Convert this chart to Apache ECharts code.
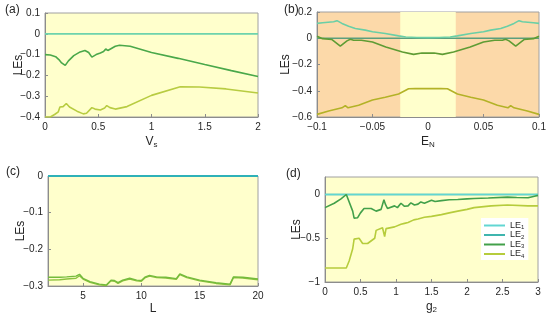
<!DOCTYPE html>
<html><head><meta charset="utf-8">
<script src="https://cdn.jsdelivr.net/npm/echarts@6/dist/echarts.min.js"></script>
<style>html,body{margin:0;padding:0;background:#fff}#c{width:550px;height:320px}</style>
</head><body><div id="c"></div>
<script>
// ---------- Panel (a): LEs vs V_s ----------
const aZeroX = [0, 2];
const aZeroY = [0, 0];
const aLE3x = [0,0.05,0.1,0.13,0.156,0.17,0.19,0.22,0.27,0.33,0.375,0.41,0.44,0.48,0.52,0.55,0.57,0.59,0.66,0.7,0.8,1.0,1.25,1.5,1.75,2.0];
const aLE3y = [-0.1,-0.102,-0.11,-0.124,-0.14,-0.142,-0.152,-0.13,-0.105,-0.087,-0.08,-0.09,-0.112,-0.1,-0.092,-0.085,-0.073,-0.08,-0.06,-0.055,-0.06,-0.09,-0.118,-0.148,-0.177,-0.205];
const aLE4x = [0,0.05,0.09,0.125,0.14,0.17,0.2,0.23,0.3,0.36,0.39,0.44,0.47,0.52,0.56,0.58,0.61,0.66,0.77,1.0,1.27,1.45,1.7,2.0];
const aLE4y = [-0.4,-0.4,-0.388,-0.375,-0.352,-0.35,-0.335,-0.352,-0.372,-0.385,-0.382,-0.355,-0.362,-0.366,-0.357,-0.345,-0.355,-0.362,-0.35,-0.296,-0.255,-0.256,-0.265,-0.285];

// ---------- Panel (b): LEs vs E_N ----------
const bShade = [-0.025, 0.025];
const bLE1x = [-0.1,-0.095,-0.085,-0.082,-0.0775,-0.0715,-0.0655,-0.0565,-0.05,-0.0385,-0.0265,-0.02,-0.01,0,0.01,0.02,0.0265,0.0385,0.05,0.0565,0.0655,0.0715,0.0775,0.082,0.085,0.095,0.1];
const bLE1y = [0.113,0.118,0.126,0.134,0.113,0.092,0.074,0.062,0.049,0.036,0.018,0.01,0.006,0.005,0.006,0.01,0.018,0.036,0.049,0.062,0.074,0.092,0.113,0.134,0.126,0.118,0.113];
const bLE2x = [-0.1, 0.1];
const bLE2y = [0, 0];
const bLE3x = [-0.1,-0.095,-0.0865,-0.079,-0.073,-0.07,-0.067,-0.06,-0.05,-0.038,-0.023,-0.013,-0.0055,0,0.0055,0.013,0.023,0.038,0.05,0.06,0.067,0.07,0.073,0.079,0.0865,0.095,0.1];
const bLE3y = [0.015,-0.003,-0.01,-0.06,-0.02,-0.008,-0.015,-0.015,-0.028,-0.067,-0.105,-0.123,-0.113,-0.113,-0.113,-0.123,-0.105,-0.067,-0.028,-0.015,-0.015,-0.008,-0.02,-0.06,-0.01,-0.003,0.015];
const bLE4x = [-0.1,-0.0895,-0.0775,-0.0745,-0.072,-0.0625,-0.05,-0.0385,-0.0265,-0.0175,-0.0115,0,0.0115,0.0175,0.0265,0.0385,0.05,0.0625,0.072,0.0745,0.0775,0.0895,0.1];
const bLE4y = [-0.58,-0.555,-0.53,-0.513,-0.53,-0.51,-0.47,-0.45,-0.425,-0.385,-0.384,-0.384,-0.384,-0.385,-0.425,-0.45,-0.47,-0.51,-0.53,-0.513,-0.53,-0.555,-0.58];

// ---------- Panel (c): LEs vs L ----------
const cZeroX = [2, 20];
const cZeroY = [0, 0];
const cLE3x = [2,3,3.6,4.4,4.7,5,5.6,6.4,7,7.4,7.7,8,8.4,9,9.6,10,10.3,10.7,11.3,12.1,13,13.3,13.9,15,16.4,17.6,17.9,18.7,20];
const cLE3y = [-0.276,-0.276,-0.275,-0.273,-0.268,-0.279,-0.288,-0.295,-0.297,-0.284,-0.285,-0.291,-0.284,-0.279,-0.284,-0.285,-0.276,-0.271,-0.275,-0.276,-0.28,-0.267,-0.275,-0.284,-0.291,-0.295,-0.275,-0.276,-0.281];
const cLE4x = [2,3,3.6,4.4,4.7,5,5.6,6.4,7,7.4,7.7,8,8.4,9,9.6,10,10.3,10.7,11.3,12.1,13,13.3,13.9,15,16.4,17.6,17.9,18.7,20];
const cLE4y = [-0.284,-0.283,-0.281,-0.279,-0.272,-0.281,-0.29,-0.297,-0.299,-0.286,-0.287,-0.293,-0.286,-0.281,-0.286,-0.287,-0.278,-0.273,-0.277,-0.278,-0.282,-0.269,-0.277,-0.286,-0.293,-0.297,-0.277,-0.278,-0.283];

// ---------- Panel (d): LEs vs g_2 ----------
const dZeroX = [0, 3];
const dZeroY = [0, 0];
const dLE3x = [0,0.13,0.225,0.3,0.32,0.39,0.41,0.46,0.5,0.55,0.65,0.72,0.79,0.83,0.85,0.88,0.98,1.02,1.07,1.12,1.17,1.21,1.26,1.31,1.35,1.4,1.5,1.55,1.64,1.75,1.87,2.0,2.1,2.3,2.57,2.7,2.86,2.95,3];
const dLE3y = [-0.15,-0.1,-0.05,0,-0.01,-0.19,-0.27,-0.265,-0.21,-0.16,-0.16,-0.19,-0.17,-0.06,-0.11,-0.16,-0.13,-0.15,-0.1,-0.135,-0.13,-0.095,-0.12,-0.11,-0.085,-0.1,-0.065,-0.08,-0.07,-0.06,-0.057,-0.05,-0.045,-0.04,-0.03,-0.035,-0.038,-0.02,-0.01];
const dLE4x = [0,0.3,0.34,0.39,0.41,0.48,0.53,0.6,0.7,0.72,0.81,0.84,0.86,0.98,1.07,1.12,1.17,1.25,1.31,1.4,1.5,1.64,1.75,1.87,2.0,2.1,2.34,2.57,2.86,3];
const dLE4y = [-0.84,-0.84,-0.76,-0.62,-0.51,-0.5,-0.56,-0.56,-0.5,-0.41,-0.38,-0.48,-0.39,-0.37,-0.34,-0.33,-0.32,-0.29,-0.28,-0.26,-0.25,-0.23,-0.21,-0.19,-0.17,-0.15,-0.13,-0.12,-0.13,-0.13];

// ---------- Tick labels ----------
const cXTicks = [5, 10, 15, 20];
const dYTicks = [-1, -0.5, 0];

const zip = (xs, ys) => xs.map((x, i) => [x, ys[i]]);
const FONT = 'Liberation Sans';
const BG = '#FFFFCC';
const minus = v => String(+v.toFixed(4)).replace('-', '\u2212');

const grids = [
  {left: 45, top: 13, width: 213, height: 104},
  {left: 317, top: 12, width: 222, height: 105},
  {left: 48, top: 176, width: 210, height: 110},
  {left: 325, top: 177, width: 213, height: 105}
].map((g, i) => Object.assign(g, {
  show: true, backgroundColor: i === 1 ? '#FCD9A9' : BG,
  borderColor: '#a0a0a0', borderWidth: 1, containLabel: false, outerBoundsMode: 'none'
}));

function axisBase(extra) {
  return Object.assign({
    type: 'value', splitLine: {show: false},
    axisLine: {show: true, onZero: false, lineStyle: {color: '#8c8c8c', width: 1}},
    axisTick: {show: true, inside: true, length: 3, lineStyle: {color: '#8c8c8c'}},
    axisLabel: {fontSize: 10, color: '#262626', fontFamily: FONT, margin: 5, formatter: minus},
    nameLocation: 'middle', nameMoveOverlap: false,
    nameTextStyle: {fontFamily: FONT, color: '#262626', fontSize: 12,
      rich: {i: {fontSize: 12, fontFamily: FONT, color: '#262626'},
             s: {fontSize: 8, fontFamily: FONT, color: '#262626', padding: [7, 0, 0, 0]}}}
  }, extra);
}

const xAxes = [
  axisBase({gridIndex: 0, min: 0, max: 2, interval: 0.5, name: '{i|V}{s|s}', nameGap: 17}),
  axisBase({gridIndex: 1, min: -0.1, max: 0.1, interval: 0.05, name: '{i|E}{s|N}', nameGap: 17}),
  axisBase({gridIndex: 2, min: 2, max: 20, name: '{i|L}', nameGap: 17,
    axisLabel: {fontSize: 10, color: '#262626', fontFamily: FONT, margin: 5, customValues: cXTicks, formatter: minus},
    axisTick: {show: true, inside: true, length: 3, lineStyle: {color: '#8c8c8c'}, customValues: cXTicks}}),
  axisBase({gridIndex: 3, min: 0, max: 3, interval: 0.5, name: '{i|g}{s|2}', nameGap: 17})
];
const yName = {name: 'LEs', nameRotate: 90};
const yAxes = [
  axisBase(Object.assign({gridIndex: 0, min: -0.4, max: 0.1, interval: 0.1, nameGap: 20}, yName)),
  axisBase(Object.assign({gridIndex: 1, min: -0.6, max: 0.2, interval: 0.2, nameGap: 25}, yName)),
  axisBase(Object.assign({gridIndex: 2, min: -0.3, max: 0, interval: 0.1, nameGap: 21}, yName)),
  axisBase(Object.assign({gridIndex: 3, min: -1, max: 0.2, nameGap: 22,
    axisLabel: {fontSize: 10, color: '#262626', fontFamily: FONT, margin: 5, customValues: dYTicks, formatter: minus},
    axisTick: {show: true, inside: true, length: 3, lineStyle: {color: '#8c8c8c'}, customValues: dYTicks}}, yName))
];

function line(name, idx, xs, ys, color, width) {
  return {type: 'line', name: name, xAxisIndex: idx, yAxisIndex: idx, data: zip(xs, ys),
    showSymbol: false, symbol: 'none', smooth: false, animation: false, z: 3,
    lineStyle: {color: color, width: width || 1.6}, itemStyle: {color: color}};
}

const series = [
  // panel (d) first so the legend takes its colours
  line('LE2', 3, dZeroX, dZeroY, '#3fb5ae', 1.6),
  line('LE1', 3, dZeroX, dZeroY, '#62d6d2', 1.4),
  line('LE3', 3, dLE3x, dLE3y, '#42a04a', 1.6),
  line('LE4', 3, dLE4x, dLE4y, '#b6cc3c', 1.6),
  // panel (a)
  line('LE1', 0, aZeroX, aZeroY, '#6dd3ad', 1.8),
  line('LE3', 0, aLE3x, aLE3y, '#4aa84a', 1.6),
  line('LE4', 0, aLE4x, aLE4y, '#b8cc42', 1.6),
  // panel (b)
  {type: 'line', name: 'shade', xAxisIndex: 1, yAxisIndex: 1, data: [], z: 1, silent: true,
   markArea: {silent: true, itemStyle: {color: BG}, data: [[{xAxis: bShade[0]}, {xAxis: bShade[1]}]]}},
  line('LE2', 1, bLE2x, bLE2y, '#5c9f7e', 1.4),
  line('LE1', 1, bLE1x, bLE1y, '#6acfa6', 1.6),
  line('LE3', 1, bLE3x, bLE3y, '#5f9c34', 1.6),
  line('LE4', 1, bLE4x, bLE4y, '#b3b227', 1.6),
  // panel (c)
  line('LE1', 2, cZeroX, cZeroY, '#2fb1b8', 1.8),
  line('LE4', 2, cLE4x, cLE4y, '#8dc23e', 1.4),
  line('LE3', 2, cLE3x, cLE3y, '#74bb3c', 1.4)
];

const panelLabels = [['(a)', 5, 4], ['(b)', 284, 4], ['(c)', 6, 166], ['(d)', 286, 168]];

const chart = echarts.init(document.getElementById('c'), null, {renderer: 'canvas'});
chart.setOption({
  animation: false,
  textStyle: {fontFamily: FONT},
  grid: grids, xAxis: xAxes, yAxis: yAxes, series: series,
  legend: {
    orient: 'vertical', left: 481, top: 218, data: ['LE1', 'LE2', 'LE3', 'LE4'],
    icon: 'rect', itemWidth: 21, itemHeight: 2, itemGap: 0,
    backgroundColor: '#ffffff', padding: [3, 4, 1, 3], selectedMode: false,
    formatter: n => '{a|LE}{s|' + n.slice(2) + '}',
    textStyle: {fontSize: 9, color: '#262626', fontFamily: FONT,
      rich: {a: {fontSize: 9, fontFamily: FONT, color: '#262626'},
             s: {fontSize: 6, fontFamily: FONT, color: '#262626', padding: [4, 0, 0, 0]}}}
  },
  graphic: panelLabels.map(p => ({type: 'text', left: p[1], top: p[2],
    style: {text: p[0], fontSize: 12, fontFamily: FONT, fill: '#262626'}}))
});
</script></body></html>
